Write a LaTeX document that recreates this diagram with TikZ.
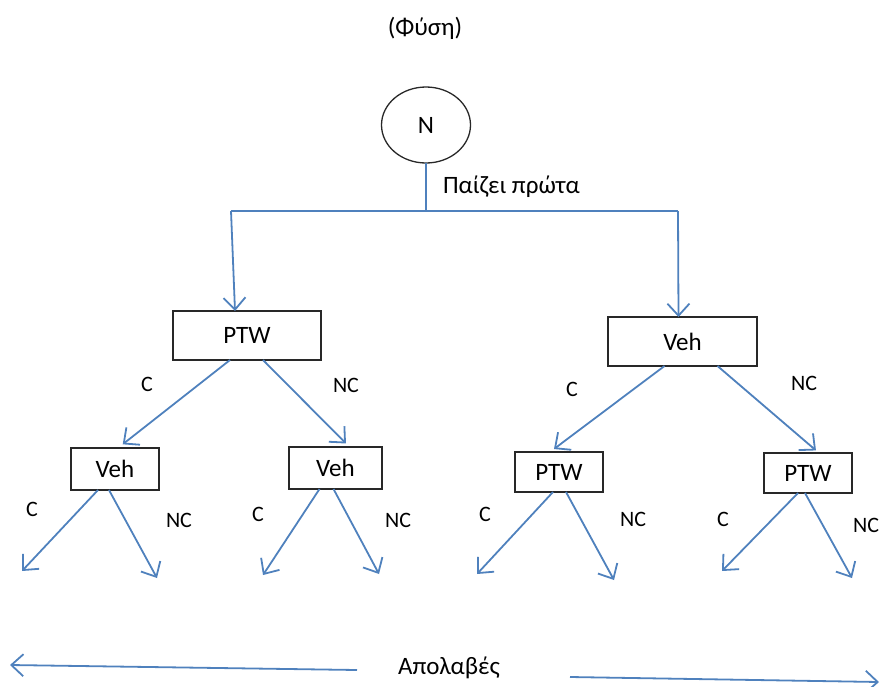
\documentclass[tikz,border=0pt]{standalone}
\usepackage{fontspec}
\setmainfont{Carlito}
\usetikzlibrary{arrows.meta,shapes.geometric}
\definecolor{linkblue}{RGB}{79,129,189}
\definecolor{boxline}{RGB}{40,40,40}
\begin{document}
\begin{tikzpicture}[x=1pt,y=-1pt,
  every node/.style={inner sep=0pt,outer sep=0pt},
  bigtext/.style={font=\fontsize{25}{29}\selectfont},
  lbl/.style={font=\fontsize{22}{26}\selectfont},
  player/.style={draw=boxline,line width=1.3pt,rectangle,bigtext},
  link/.style={draw=linkblue,line width=1.8pt},
  arr/.style={link,-{Straight Barb[length=12pt,width=22pt,line width=1.8pt]}}]
\useasboundingbox (0,0) rectangle (881,686);

% chance node and heading
\node[bigtext] (title) at (425,28) {(Φύση)};
\node[draw=boxline,line width=1.3pt,ellipse,minimum width=89pt,minimum height=76pt,
      font=\fontsize{25}{29}\selectfont] (nature) at (426,125) {N};
\node[bigtext,anchor=west] (first) at (443,187) {Παίζει πρώτα};

% decision nodes
\node[player,minimum width=148pt,minimum height=49pt] (ptw)  at (247,335.5) {PTW};
\node[player,minimum width=149pt,minimum height=49pt] (vehR) at (682.5,341.5) {Veh};
\node[player,minimum width=88pt,minimum height=42pt]  (vehA) at (115,469) {Veh};
\node[player,minimum width=93pt,minimum height=42pt]  (vehB) at (335.5,468) {Veh};
\node[player,minimum width=88pt,minimum height=40pt]  (ptwC) at (559,472) {PTW};
\node[player,minimum width=88pt,minimum height=40pt]  (ptwD) at (808,473) {PTW};

% who moves first
\coordinate (busL) at (231,211);
\coordinate (busR) at (678,211);
\draw[link] (nature.south) |- (busL);
\draw[link] (nature.south) |- (busR);
\draw[arr] (busL) -- ([xshift=-12pt]ptw.north);
\draw[arr] (busR) -- ([xshift=-4pt]vehR.north);

% second mover
\draw[arr,shorten >=6pt] ([xshift=-17pt]ptw.south) -- ([xshift=3pt]vehA.north);
\draw[arr,shorten >=5pt] ([xshift=16pt]ptw.south) -- ([xshift=14pt]vehB.north);
\draw[arr,shorten >=5pt] ([xshift=-18pt]vehR.south) -- ([xshift=-9pt]ptwC.north);
\draw[arr,shorten >=4pt] ([xshift=35pt]vehR.south) -- ([xshift=11pt]ptwD.north);
\node[lbl] (cL)  at (147,384) {C};
\node[lbl] (ncL) at (346,385) {NC};
\node[lbl] (cR)  at (572,389) {C};
\node[lbl] (ncR) at (804,383) {NC};

% terminal moves
\coordinate (a1) at (22,571);  \coordinate (a2) at (157,578);
\coordinate (b1) at (263,575); \coordinate (b2) at (379,574);
\coordinate (c1) at (477,574); \coordinate (c2) at (614,580);
\coordinate (d1) at (722,571); \coordinate (d2) at (852,578);
\draw[arr] ([xshift=-17pt]vehA.south) -- (a1);
\draw[arr] ([xshift=-6pt]vehA.south)  -- (a2);
\draw[arr] ([xshift=-16pt]vehB.south) -- (b1);
\draw[arr] ([xshift=-2pt]vehB.south)  -- (b2);
\draw[arr] ([xshift=-6pt]ptwC.south)  -- (c1);
\draw[arr] ([xshift=7pt]ptwC.south)   -- (c2);
\draw[arr] ([xshift=-10pt]ptwD.south) -- (d1);
\draw[arr] ([xshift=-3pt]ptwD.south)  -- (d2);
\node[lbl] (ca) at (32,509)  {C};
\node[lbl] (na) at (179,520) {NC};
\node[lbl] (cb) at (258,514) {C};
\node[lbl] (nb) at (398,520) {NC};
\node[lbl] (cc) at (485,514) {C};
\node[lbl] (nc) at (633,519) {NC};
\node[lbl] (cd) at (723,519) {C};
\node[lbl] (nd) at (866,525) {NC};

% payoffs
\node[bigtext] (pay) at (449,668) {Απολαβές};
\coordinate (payLs) at (357,670);
\coordinate (payL) at (10,665);
\coordinate (payRs) at (570,677);
\coordinate (payR) at (879,682);
\draw[arr] (payLs) -- (payL);
\draw[arr] (payRs) -- (payR);
\end{tikzpicture}
\end{document}
